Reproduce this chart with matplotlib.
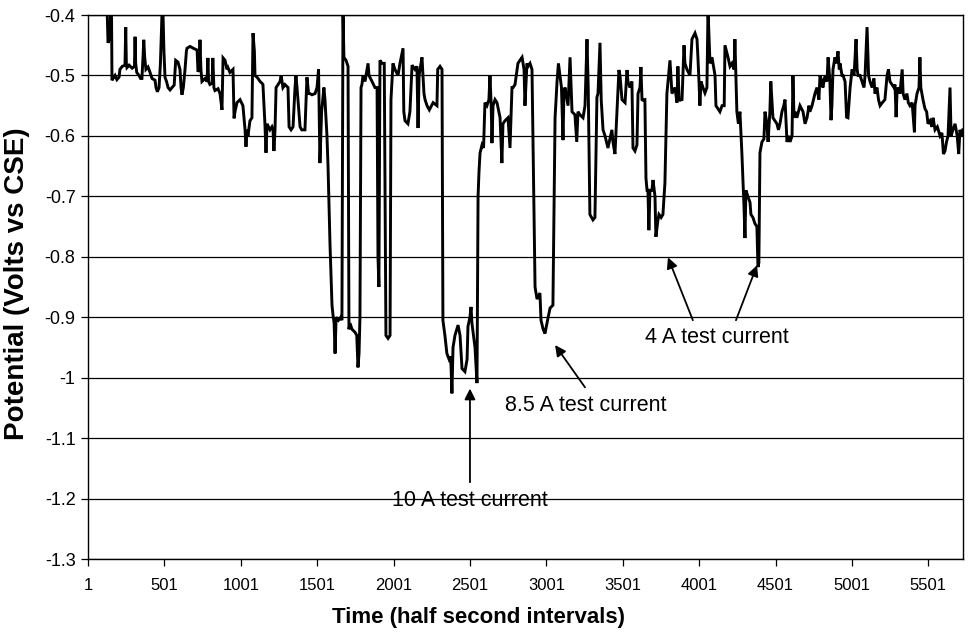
import matplotlib
matplotlib.use("Agg")
import matplotlib.pyplot as plt
from matplotlib import font_manager

# ---------------- data ----------------
time_idx = [
    1, 120, 125, 132, 140, 145, 150, 155, 158, 165, 178, 190, 204, 210, 225, 243, 248, 252, 256, 270,
    290, 305, 309, 313, 320, 335, 345, 354, 361, 366, 372, 380, 394, 407, 420, 440, 446, 455, 466, 475,
    485, 492, 498, 505, 515, 525, 538, 551, 565, 575, 590, 603, 610, 616, 625, 636, 645, 649, 669, 690,
    715, 721, 728, 734, 740, 747, 767, 780, 786, 790, 799, 813, 818, 825, 832, 852, 865, 878, 885, 898,
    911, 917, 930, 950, 957, 963, 976, 996, 1015, 1029, 1035, 1042, 1048, 1061, 1074, 1081, 1090, 1094, 1107, 1114,
    1127, 1140, 1146, 1159, 1166, 1173, 1192, 1205, 1212, 1218, 1225, 1232, 1245, 1258, 1265, 1277, 1290, 1310, 1317, 1330,
    1343, 1356, 1362, 1369, 1389, 1400, 1421, 1434, 1445, 1454, 1467, 1487, 1500, 1510, 1519, 1530, 1545, 1552, 1565, 1572,
    1585, 1598, 1604, 1612, 1618, 1625, 1640, 1655, 1663, 1670, 1676, 1690, 1703, 1709, 1716, 1729, 1749, 1760, 1768, 1775,
    1781, 1788, 1794, 1801, 1814, 1834, 1840, 1860, 1879, 1893, 1899, 1905, 1912, 1925, 1940, 1951, 1965, 1978, 1984, 1997,
    2010, 2030, 2043, 2063, 2068, 2076, 2095, 2108, 2122, 2141, 2154, 2161, 2168, 2174, 2187, 2200, 2207, 2220, 2235, 2260,
    2285, 2290, 2305, 2318, 2324, 2337, 2350, 2365, 2375, 2383, 2390, 2403, 2423, 2436, 2449, 2468, 2482, 2488, 2501, 2508,
    2514, 2534, 2547, 2554, 2560, 2567, 2580, 2590, 2599, 2612, 2625, 2632, 2640, 2645, 2652, 2665, 2678, 2698, 2710, 2717,
    2730, 2750, 2763, 2776, 2783, 2796, 2815, 2828, 2842, 2855, 2861, 2874, 2881, 2894, 2907, 2927, 2940, 2959, 2966, 2980,
    2992, 3005, 3025, 3044, 3058, 3071, 3080, 3090, 3100, 3110, 3116, 3123, 3143, 3156, 3169, 3188, 3200, 3208, 3221, 3241,
    3254, 3267, 3275, 3286, 3306, 3319, 3332, 3339, 3352, 3360, 3372, 3385, 3404, 3417, 3430, 3437, 3450, 3463, 3476, 3483,
    3496, 3516, 3529, 3535, 3548, 3561, 3568, 3581, 3594, 3601, 3614, 3620, 3627, 3633, 3646, 3653, 3660, 3666, 3672, 3679,
    3692, 3699, 3712, 3718, 3731, 3738, 3752, 3764, 3777, 3790, 3810, 3823, 3843, 3856, 3862, 3870, 3876, 3889, 3902, 3908,
    3921, 3941, 3954, 3974, 3987, 3993, 4000, 4006, 4013, 4026, 4039, 4052, 4059, 4072, 4085, 4105, 4111, 4124, 4137, 4151,
    4165, 4170, 4180, 4190, 4203, 4216, 4230, 4235, 4248, 4258, 4268, 4281, 4290, 4295, 4301, 4307, 4320, 4334, 4340, 4353,
    4366, 4379, 4386, 4392, 4399, 4412, 4425, 4432, 4445, 4452, 4464, 4470, 4484, 4497, 4510, 4520, 4530, 4543, 4555, 4563,
    4576, 4589, 4596, 4609, 4615, 4622, 4628, 4641, 4661, 4681, 4694, 4707, 4720, 4726, 4740, 4759, 4772, 4785, 4792, 4805,
    4811, 4825, 4838, 4845, 4857, 4864, 4870, 4877, 4890, 4900, 4910, 4918, 4923, 4936, 4943, 4956, 4966, 4975, 4989, 5002,
    5015, 5028, 5035, 5041, 5054, 5067, 5080, 5087, 5100, 5110, 5119, 5133, 5145, 5152, 5165, 5175, 5185, 5200, 5217, 5231,
    5240, 5250, 5263, 5276, 5283, 5290, 5296, 5303, 5315, 5330, 5336, 5348, 5361, 5370, 5381, 5395, 5410, 5414, 5427, 5440,
    5446, 5452, 5466, 5479, 5490, 5499, 5512, 5525, 5532, 5545, 5560, 5578, 5590, 5600, 5610, 5620, 5630, 5643, 5650, 5662,
    5676, 5690, 5700, 5708, 5721, 5727,
]
potential = [
    -0.36, -0.37, -0.38, -0.446, -0.44, -0.43, -0.39, -0.40, -0.508, -0.505, -0.500, -0.507, -0.503, -0.49, -0.485, -0.483, -0.42, -0.48, -0.487, -0.483,
    -0.488, -0.485, -0.436, -0.48, -0.495, -0.50, -0.505, -0.505, -0.47, -0.441, -0.47, -0.49, -0.486, -0.495, -0.505, -0.508, -0.52, -0.527, -0.52, -0.48,
    -0.40, -0.398, -0.46, -0.503, -0.51, -0.52, -0.524, -0.52, -0.516, -0.475, -0.478, -0.49, -0.52, -0.532, -0.52, -0.49, -0.46, -0.455, -0.452, -0.455,
    -0.458, -0.494, -0.49, -0.441, -0.49, -0.51, -0.505, -0.51, -0.471, -0.51, -0.515, -0.513, -0.471, -0.52, -0.525, -0.522, -0.53, -0.557, -0.471, -0.475,
    -0.49, -0.487, -0.495, -0.49, -0.571, -0.56, -0.545, -0.54, -0.55, -0.59, -0.618, -0.59, -0.60, -0.575, -0.57, -0.43, -0.46, -0.50, -0.503, -0.505,
    -0.51, -0.513, -0.515, -0.58, -0.628, -0.58, -0.59, -0.585, -0.59, -0.625, -0.59, -0.52, -0.515, -0.51, -0.50, -0.52, -0.515, -0.52, -0.585, -0.59,
    -0.585, -0.52, -0.50, -0.52, -0.585, -0.59, -0.59, -0.503, -0.53, -0.53, -0.532, -0.53, -0.52, -0.49, -0.645, -0.56, -0.52, -0.54, -0.60, -0.65,
    -0.78, -0.88, -0.895, -0.91, -0.96, -0.90, -0.905, -0.90, -0.905, -0.39, -0.47, -0.475, -0.485, -0.92, -0.91, -0.92, -0.925, -0.93, -0.983, -0.96,
    -0.90, -0.52, -0.515, -0.50, -0.51, -0.48, -0.50, -0.51, -0.52, -0.52, -0.80, -0.85, -0.475, -0.48, -0.48, -0.93, -0.935, -0.93, -0.54, -0.48,
    -0.49, -0.50, -0.48, -0.455, -0.56, -0.575, -0.58, -0.56, -0.483, -0.49, -0.485, -0.587, -0.50, -0.49, -0.47, -0.53, -0.54, -0.55, -0.557, -0.545,
    -0.55, -0.49, -0.485, -0.49, -0.905, -0.93, -0.96, -0.97, -0.965, -1.026, -0.95, -0.93, -0.913, -0.93, -0.985, -0.99, -0.97, -0.915, -0.90, -0.883,
    -0.91, -0.95, -1.009, -0.70, -0.66, -0.628, -0.615, -0.62, -0.545, -0.55, -0.54, -0.50, -0.55, -0.612, -0.55, -0.54, -0.545, -0.57, -0.645, -0.58,
    -0.575, -0.57, -0.62, -0.52, -0.52, -0.515, -0.48, -0.475, -0.47, -0.49, -0.55, -0.48, -0.485, -0.48, -0.49, -0.85, -0.87, -0.86, -0.905, -0.92,
    -0.927, -0.91, -0.885, -0.88, -0.57, -0.51, -0.48, -0.50, -0.52, -0.607, -0.53, -0.52, -0.55, -0.47, -0.56, -0.565, -0.61, -0.56, -0.565, -0.57,
    -0.55, -0.44, -0.52, -0.73, -0.739, -0.735, -0.536, -0.53, -0.446, -0.54, -0.59, -0.60, -0.62, -0.605, -0.59, -0.61, -0.63, -0.56, -0.491, -0.50,
    -0.54, -0.545, -0.491, -0.51, -0.52, -0.51, -0.62, -0.625, -0.615, -0.53, -0.52, -0.486, -0.54, -0.541, -0.54, -0.67, -0.69, -0.69, -0.756, -0.69,
    -0.69, -0.673, -0.70, -0.767, -0.74, -0.73, -0.735, -0.73, -0.678, -0.53, -0.475, -0.53, -0.52, -0.545, -0.485, -0.54, -0.541, -0.54, -0.45, -0.48,
    -0.49, -0.50, -0.44, -0.43, -0.44, -0.47, -0.51, -0.55, -0.51, -0.52, -0.529, -0.52, -0.39, -0.48, -0.47, -0.50, -0.55, -0.555, -0.56, -0.55,
    -0.55, -0.45, -0.46, -0.47, -0.485, -0.48, -0.49, -0.44, -0.56, -0.58, -0.56, -0.63, -0.685, -0.72, -0.769, -0.69, -0.70, -0.71, -0.73, -0.735,
    -0.745, -0.75, -0.817, -0.81, -0.628, -0.61, -0.605, -0.56, -0.58, -0.61, -0.56, -0.51, -0.57, -0.575, -0.58, -0.59, -0.58, -0.56, -0.55, -0.54,
    -0.61, -0.60, -0.61, -0.60, -0.50, -0.57, -0.56, -0.57, -0.55, -0.56, -0.58, -0.57, -0.55, -0.56, -0.55, -0.53, -0.52, -0.54, -0.50, -0.51,
    -0.52, -0.50, -0.51, -0.47, -0.51, -0.574, -0.55, -0.49, -0.47, -0.48, -0.46, -0.49, -0.48, -0.50, -0.50, -0.51, -0.569, -0.57, -0.52, -0.49,
    -0.50, -0.44, -0.49, -0.50, -0.50, -0.51, -0.52, -0.50, -0.42, -0.50, -0.51, -0.52, -0.505, -0.53, -0.52, -0.54, -0.55, -0.545, -0.54, -0.50,
    -0.49, -0.51, -0.515, -0.52, -0.515, -0.569, -0.53, -0.52, -0.53, -0.49, -0.53, -0.54, -0.53, -0.545, -0.55, -0.545, -0.594, -0.55, -0.53, -0.52,
    -0.47, -0.52, -0.54, -0.555, -0.56, -0.58, -0.575, -0.585, -0.57, -0.59, -0.585, -0.60, -0.595, -0.63, -0.625, -0.61, -0.60, -0.52, -0.60, -0.59,
    -0.58, -0.60, -0.63, -0.59, -0.60, -0.59,
]

x_ticks = [1, 501, 1001, 1501, 2001, 2501, 3001, 3501, 4001, 4501, 5001, 5501]
y_ticks = [-0.4, -0.5, -0.6, -0.7, -0.8, -0.9, -1.0, -1.1, -1.2, -1.3]
y_tick_labels = ["-0.4", "-0.5", "-0.6", "-0.7", "-0.8", "-0.9", "-1", "-1.1", "-1.2", "-1.3"]

annotation_texts = ["10 A test current", "8.5 A test current", "4 A test current"]
annotation_text_pos = [(2501, -1.203), (3262, -1.046), (4118, -0.933)]
arrows = [((2501, -1.173), (2501, -1.018)),
          ((3254, -1.016), (3058, -0.946)),
          ((3960, -0.905), (3797, -0.801)),
          ((4242, -0.905), (4380, -0.814))]

# ---------------- fonts ----------------
names = {f.name for f in font_manager.fontManager.ttflist}
base_font = "Liberation Sans" if "Liberation Sans" in names else "DejaVu Sans"
plt.rcParams["font.family"] = [base_font, "DejaVu Sans"]

# ---------------- figure ----------------
fig = plt.figure(figsize=(9.74, 6.42), dpi=100)
ax = fig.add_axes([88 / 974, 1 - 559 / 642, 875 / 974, 544 / 642])

ax.plot(time_idx, potential, color="black", lw=2.1, solid_joinstyle="miter")

ax.set_xlim(1, 5728)
ax.set_ylim(-1.3, -0.4)
ax.set_yticks(y_ticks)
ax.set_yticklabels(y_tick_labels)
ax.set_xticks(x_ticks)
ax.set_xticklabels([str(v) for v in x_ticks])

for lab in ax.get_xticklabels():
    lab.set_fontsize(12)
for lab in ax.get_yticklabels():
    lab.set_fontsize(13)

ax.yaxis.grid(True, color="black", lw=0.9)
ax.set_axisbelow(True)
ax.tick_params(axis="both", direction="out", length=5, width=0.9, color="black", pad=4)
ax.tick_params(axis="x", pad=9)
for s in ax.spines.values():
    s.set_color("black")
    s.set_linewidth(1.0)

ax.set_xlabel("Time (half second intervals)", fontsize=16, fontweight="bold")
ax.xaxis.set_label_coords((479 - 88) / 875, -(618 - 559) / 544)
ax.set_ylabel("Potential (Volts vs CSE)", fontsize=20, fontweight="bold")
ax.yaxis.set_label_coords(-(88 - 17) / 875, (559 - 284) / 544)
ax.xaxis.label.set_va("center")
ax.yaxis.label.set_va("center")

for txt, (tx, ty) in zip(annotation_texts, annotation_text_pos):
    ax.text(tx, ty, txt, ha="center", va="center", fontsize=15.5)
for (tail, head) in arrows:
    ax.annotate("", xy=head, xytext=tail,
                arrowprops=dict(arrowstyle="-|>", color="black", lw=1.3, mutation_scale=16,
                                shrinkA=0, shrinkB=0))

fig.savefig("out.png", dpi=100)
